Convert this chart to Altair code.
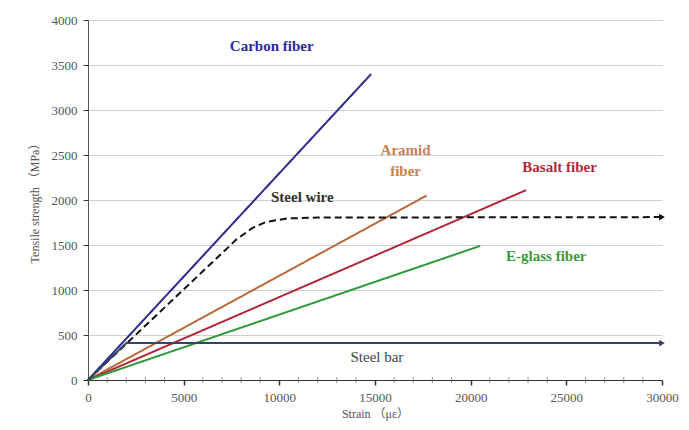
import altair as alt
import pandas as pd

# ---- data ----
carbon_x = [0, 14800]
carbon_y = [0, 3400]
aramid_x = [0, 17700]
aramid_y = [0, 2050]
basalt_x = [0, 22900]
basalt_y = [0, 2110]
eglass_x = [0, 20500]
eglass_y = [0, 1490]
wire_x = [0, 7750, 8600, 9300, 10400, 12000, 30000]
wire_y = [0, 1560, 1690, 1755, 1795, 1805, 1810]
bar_x = [0, 2000, 30000]
bar_y = [0, 410, 410]

series_names = ["Carbon fiber", "Aramid fiber", "Basalt fiber", "E-glass fiber", "Steel wire", "Steel bar"]
series_colors = ["#2a2a8f", "#b86a3c", "#b0283a", "#2e9a3a", "#111111", "#34456b"]
series_dash = [[1, 0], [1, 0], [1, 0], [1, 0], [7, 4], [1, 0]]

label_text = ["Carbon fiber", "Aramid", "fiber", "Basalt fiber", "Steel wire", "E-glass fiber", "Steel bar"]
label_x = [9600, 16600, 16600, 24650, 11200, 23950, 15100]
label_y = [3710, 2555, 2320, 2365, 2035, 1380, 255]
label_color = ["#2a2a9f", "#c8804f", "#c8804f", "#b0283a", "#333333", "#3a9a3a", "#444444"]
label_weight = ["bold", "bold", "bold", "bold", "bold", "bold", "normal"]

x_major = [0, 5000, 10000, 15000, 20000, 25000, 30000]
x_minor = [v for v in range(0, 30001, 1000) if v % 5000 != 0]
y_ticks = [0, 500, 1000, 1500, 2000, 2500, 3000, 3500, 4000]

rows = []
for name, xs, ys in [
    ("Carbon fiber", carbon_x, carbon_y),
    ("Aramid fiber", aramid_x, aramid_y),
    ("Basalt fiber", basalt_x, basalt_y),
    ("E-glass fiber", eglass_x, eglass_y),
    ("Steel wire", wire_x, wire_y),
    ("Steel bar", bar_x, bar_y),
]:
    for i, (a, b) in enumerate(zip(xs, ys)):
        rows.append({"series": name, "strain": a, "stress": b, "order": i})
df = pd.DataFrame(rows)

arrows = pd.DataFrame({
    "series": ["Steel wire", "Steel bar"],
    "strain": [wire_x[-1], bar_x[-1]],
    "stress": [wire_y[-1], bar_y[-1]],
})
labels = pd.DataFrame({"text": label_text, "strain": label_x, "stress": label_y,
                       "color": label_color, "weight": label_weight})

FONT = "Liberation Serif, Noto Sans CJK SC"

xscale = alt.Scale(domain=[0, 30000], nice=False)
yscale = alt.Scale(domain=[0, 4000], nice=False)
cscale = alt.Scale(domain=series_names, range=series_colors)

x_main = alt.X("strain:Q", scale=xscale,
               axis=alt.Axis(values=x_major, format="d", title="Strain （με）", grid=False,
                             tickSize=5, labelPadding=6, titlePadding=4, labelFlush=False,
                             domainColor="#333", tickColor="#333", tickWidth=1.5))
y_main = alt.Y("stress:Q", scale=yscale,
               axis=alt.Axis(values=y_ticks, format="d", title="Tensile strength （MPa）", grid=True,
                             gridColor="#cfcfcf", tickSize=5, labelPadding=6, titlePadding=10,
                             labelFlush=False, domainColor="#555", tickColor="#333"))

lines = alt.Chart(df).mark_line(strokeWidth=2).encode(
    x=x_main,
    y=y_main,
    color=alt.Color("series:N", scale=cscale, legend=None),
    strokeDash=alt.StrokeDash("series:N", scale=alt.Scale(domain=series_names, range=series_dash), legend=None),
    order="order:Q",
    detail="series:N",
)

minor = alt.Chart(pd.DataFrame({"strain": x_minor})).mark_tick(
    orient="vertical", size=6, thickness=1, color="#666").encode(
    x=alt.X("strain:Q", scale=xscale),
    y=alt.value(360),
)

heads = alt.Chart(arrows).mark_point(shape="triangle-right", filled=True, size=45, opacity=1).encode(
    x=alt.X("strain:Q", scale=xscale),
    y=alt.Y("stress:Q", scale=yscale),
    color=alt.Color("series:N", scale=cscale, legend=None),
)

text_bold = alt.Chart(labels[labels.weight == "bold"]).mark_text(
    font=FONT, fontSize=15, fontWeight="bold").encode(
    x=alt.X("strain:Q", scale=xscale),
    y=alt.Y("stress:Q", scale=yscale),
    text="text:N",
    color=alt.Color("color:N", scale=None),
)
text_norm = alt.Chart(labels[labels.weight == "normal"]).mark_text(
    font=FONT, fontSize=15).encode(
    x=alt.X("strain:Q", scale=xscale),
    y=alt.Y("stress:Q", scale=yscale),
    text="text:N",
    color=alt.Color("color:N", scale=None),
)

chart = alt.layer(lines, minor, heads, text_bold, text_norm).properties(
    width=574, height=360,
    autosize=alt.AutoSizeParams(type="none"),
    padding={"left": 80, "top": 12, "right": 19, "bottom": 50},
).configure_axis(
    labelFont=FONT, titleFont=FONT, labelFontSize=13, titleFontSize=12,
    labelColor="#555", titleColor="#555", titleFontWeight="normal",
).configure_view(stroke=None)

chart.save("out.html", embed_options={"renderer": "svg", "actions": False})
